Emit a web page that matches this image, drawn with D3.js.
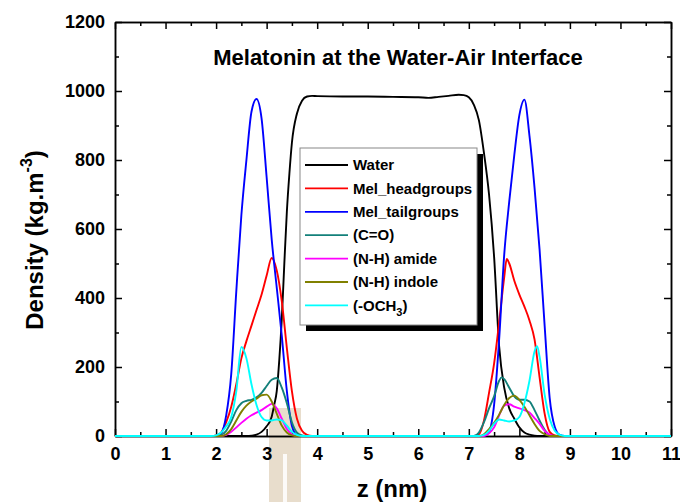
<!DOCTYPE html>
<html>
<head>
<meta charset="utf-8">
<script src="https://cdn.jsdelivr.net/npm/d3@7"></script>
<style>
body { margin: 0; background: #fff; }
svg { display: block; }
text { font-family: "Liberation Sans", Arial, sans-serif; font-weight: bold; }
</style>
</head>
<body>
<div class="chart"></div>
<script>
(function() {
	var width = 680,
		height = 502;

	// density profiles, [z (nm), density (kg/m3)]
	var water = [[0,0],[2.6,0],[2.7,1],[2.8,4],[2.9,12],[3.0,28],[3.1,56],[3.15,90],[3.2,130],[3.25,220],[3.3,340],[3.35,500],[3.4,650],[3.45,760],[3.5,850],[3.6,935],[3.7,972],[3.8,984],[3.9,986],[4.0,985],[4.5,984],[5.0,984],[5.5,983],[6.0,982],[6.2,980],[6.4,983],[6.6,986],[6.8,989],[6.9,988],[7.0,982],[7.1,960],[7.2,915],[7.3,820],[7.4,700],[7.5,520],[7.6,260],[7.7,140],[7.8,80],[7.9,50],[8.0,25],[8.1,10],[8.2,4],[8.3,1],[8.4,0],[11,0]];
	var headgroups = [[0,0],[1.9,0],[2.0,2],[2.1,10],[2.2,40],[2.3,85],[2.4,150],[2.5,225],[2.6,275],[2.7,320],[2.8,365],[2.9,410],[3.0,465],[3.1,516],[3.2,480],[3.3,390],[3.4,255],[3.5,130],[3.6,50],[3.7,15],[3.8,3],[3.9,0],[7.1,0],[7.2,5],[7.3,45],[7.4,125],[7.5,210],[7.6,330],[7.7,460],[7.75,513],[7.8,500],[7.9,450],[8.0,410],[8.1,375],[8.2,335],[8.3,280],[8.4,170],[8.5,65],[8.6,12],[8.7,2],[8.8,0],[11,0]];
	var tailgroups = [[0,0],[2.0,0],[2.1,8],[2.2,60],[2.3,180],[2.4,420],[2.5,640],[2.6,800],[2.7,940],[2.8,977],[2.9,920],[3.0,750],[3.1,570],[3.2,430],[3.3,290],[3.4,130],[3.5,30],[3.6,3],[3.7,0],[7.3,0],[7.4,12],[7.5,90],[7.6,280],[7.7,525],[7.8,680],[7.9,815],[8.0,930],[8.1,975],[8.2,870],[8.3,720],[8.4,540],[8.5,320],[8.6,110],[8.7,27],[8.8,3],[8.9,0],[11,0]];
	var carbonyl = [[0,0],[2.0,0],[2.1,3],[2.2,15],[2.3,42],[2.4,75],[2.5,95],[2.6,102],[2.7,105],[2.8,112],[2.9,125],[3.0,145],[3.1,163],[3.2,168],[3.3,140],[3.4,95],[3.5,40],[3.6,10],[3.7,2],[3.8,0],[7.1,0],[7.2,10],[7.3,40],[7.4,80],[7.5,115],[7.6,160],[7.65,170],[7.7,165],[7.8,140],[7.9,115],[8.0,105],[8.1,105],[8.2,100],[8.3,75],[8.4,45],[8.5,18],[8.6,3],[8.7,0],[11,0]];
	var amide = [[0,0],[2.1,0],[2.2,3],[2.3,12],[2.4,25],[2.5,38],[2.6,50],[2.7,60],[2.8,68],[2.9,75],[3.0,85],[3.1,93],[3.2,80],[3.3,50],[3.4,20],[3.5,5],[3.6,0],[7.3,0],[7.4,8],[7.5,25],[7.6,60],[7.7,88],[7.8,92],[7.9,85],[8.0,80],[8.1,75],[8.2,68],[8.3,52],[8.4,35],[8.5,15],[8.6,4],[8.7,0],[11,0]];
	var indole = [[0,0],[2.1,0],[2.2,5],[2.3,20],[2.4,45],[2.5,70],[2.6,88],[2.7,100],[2.8,108],[2.9,118],[3.0,120],[3.1,100],[3.2,65],[3.3,30],[3.4,10],[3.5,2],[3.6,0],[7.2,0],[7.3,5],[7.4,20],[7.5,38],[7.6,62],[7.7,90],[7.8,110],[7.9,117],[8.0,105],[8.1,85],[8.2,60],[8.3,35],[8.4,15],[8.5,5],[8.6,0],[11,0]];
	var methoxy = [[0,0],[1.9,0],[2.0,2],[2.1,10],[2.2,28],[2.3,55],[2.4,130],[2.5,258],[2.6,225],[2.7,150],[2.8,90],[2.9,55],[3.0,45],[3.1,45],[3.2,48],[3.3,45],[3.4,30],[3.5,12],[3.6,3],[3.7,0],[7.2,0],[7.3,3],[7.4,15],[7.5,35],[7.6,48],[7.7,45],[7.8,42],[7.9,45],[8.0,55],[8.1,95],[8.2,160],[8.3,245],[8.35,260],[8.4,230],[8.5,120],[8.6,50],[8.7,15],[8.8,3],[8.9,0],[11,0]];

	var names = ["Water", "Mel_headgroups", "Mel_tailgroups", "(C=O)", "(N-H) amide", "(N-H) indole", "(-OCH3)"],
		colors = ["#000000", "#ff0000", "#0000ff", "#13807a", "#ff00ff", "#808000", "#00ffff"],
		profiles = [water, headgroups, tailgroups, carbonyl, amide, indole, methoxy];

	var zTicks = d3.range(0, 12),
		zMinor = d3.range(0.5, 11, 1),
		yTicks = [0, 200, 400, 600, 800, 1000, 1200],
		yMinor = [100, 300, 500, 700, 900, 1100];

	var x = d3.scaleLinear().domain([0, 11]).range([115, 671]),
		y = d3.scaleLinear().domain([0, 1200]).range([436, 22]);

	var svg = d3.select(".chart").append("svg")
		.attr("width", width)
		.attr("height", height);

	// faint watermark strip near the bottom, behind the curves
	svg.append("rect")
		.attr("x", 269).attr("y", 408).attr("width", 32).attr("height", 94)
		.attr("fill", "#cbb48f").attr("opacity", 0.45);
	svg.append("rect")
		.attr("x", 283).attr("y", 454).attr("width", 4).attr("height", 48)
		.attr("fill", "#fff").attr("opacity", 0.85);

	// axes, ticks pointing inward
	function styleAxis(g) {
		g.selectAll("path.domain").attr("stroke", "#000").attr("stroke-width", 1.5);
		g.selectAll(".tick line").attr("stroke", "#000").attr("stroke-width", 1.5);
		g.selectAll(".tick text").attr("font-size", 18).attr("fill", "#000")
			.attr("font-family", "Liberation Sans, Arial, sans-serif").attr("font-weight", "bold");
	}

	var fmt = d3.format("d");

	svg.append("g").attr("transform", "translate(0," + y(0) + ")")
		.call(d3.axisBottom(x).tickValues(zTicks).tickFormat(fmt).tickSizeInner(-7).tickSizeOuter(0).tickPadding(11))
		.call(styleAxis);
	svg.append("g").attr("transform", "translate(0," + y(0) + ")")
		.call(d3.axisBottom(x).tickValues(zMinor).tickSizeInner(-4).tickSizeOuter(0).tickFormat(""))
		.call(styleAxis);
	svg.append("g").attr("transform", "translate(0," + y(1200) + ")")
		.call(d3.axisTop(x).tickValues(zTicks).tickSizeInner(-7).tickSizeOuter(0).tickFormat(""))
		.call(styleAxis);
	svg.append("g").attr("transform", "translate(0," + y(1200) + ")")
		.call(d3.axisTop(x).tickValues(zMinor).tickSizeInner(-4).tickSizeOuter(0).tickFormat(""))
		.call(styleAxis);
	svg.append("g").attr("transform", "translate(" + x(0) + ",0)")
		.call(d3.axisLeft(y).tickValues(yTicks).tickFormat(fmt).tickSizeInner(-7).tickSizeOuter(0).tickPadding(10))
		.call(styleAxis);
	svg.append("g").attr("transform", "translate(" + x(0) + ",0)")
		.call(d3.axisLeft(y).tickValues(yMinor).tickSizeInner(-4).tickSizeOuter(0).tickFormat(""))
		.call(styleAxis);
	svg.append("g").attr("transform", "translate(" + x(11) + ",0)")
		.call(d3.axisRight(y).tickValues(yTicks).tickSizeInner(-7).tickSizeOuter(0).tickFormat(""))
		.call(styleAxis);
	svg.append("g").attr("transform", "translate(" + x(11) + ",0)")
		.call(d3.axisRight(y).tickValues(yMinor).tickSizeInner(-4).tickSizeOuter(0).tickFormat(""))
		.call(styleAxis);

	var line = d3.line()
		.x(function(d) { return x(d[0]); })
		.y(function(d) { return y(d[1]); })
		.curve(d3.curveMonotoneX);

	svg.append("g").selectAll("path")
		.data(profiles)
		.enter().append("path")
		.attr("d", line)
		.attr("fill", "none")
		.attr("stroke", function(d, i) { return colors[i]; })
		.attr("stroke-width", 1.9)
		.attr("stroke-linejoin", "round");

	// title
	svg.append("text")
		.attr("x", 398)
		.attr("y", 65)
		.attr("text-anchor", "middle")
		.attr("font-size", 22)
		.text("Melatonin at the Water-Air Interface");

	// legend with drop shadow
	var legend = svg.append("g");
	legend.append("rect")
		.attr("x", 306).attr("y", 154).attr("width", 177).attr("height", 177)
		.attr("fill", "#000");
	legend.append("rect")
		.attr("x", 300).attr("y", 148).attr("width", 177).attr("height", 177)
		.attr("fill", "#fff").attr("stroke", "#888").attr("stroke-width", 1);

	var item = legend.selectAll("g.item")
		.data(names)
		.enter().append("g")
		.attr("class", "item")
		.attr("transform", function(d, i) { return "translate(0," + (165 + i * 23.4) + ")"; });
	item.append("line")
		.attr("x1", 305).attr("x2", 348)
		.attr("stroke", function(d, i) { return colors[i]; })
		.attr("stroke-width", 1.8);
	item.append("text")
		.attr("x", 353)
		.attr("dy", "0.35em")
		.attr("font-size", 15)
		.each(function(d) {
			var t = d3.select(this);
			if (d === "(-OCH3)") {
				t.append("tspan").text("(-OCH");
				t.append("tspan").attr("font-size", 11).attr("dy", 5).text("3");
				t.append("tspan").attr("dy", -5).text(")");
			} else {
				t.text(d);
			}
		});

	// axis titles
	var ylab = svg.append("text")
		.attr("transform", "translate(43,240) rotate(-90)")
		.attr("text-anchor", "middle")
		.attr("font-size", 24);
	ylab.append("tspan").text("Density (kg.m");
	ylab.append("tspan").attr("font-size", 16).attr("dy", -11).text("-3");
	ylab.append("tspan").attr("dy", 11).text(")");

	svg.append("text")
		.attr("x", 392)
		.attr("y", 497)
		.attr("text-anchor", "middle")
		.attr("font-size", 24)
		.text("z (nm)");
})();
</script>
</body>
</html>
